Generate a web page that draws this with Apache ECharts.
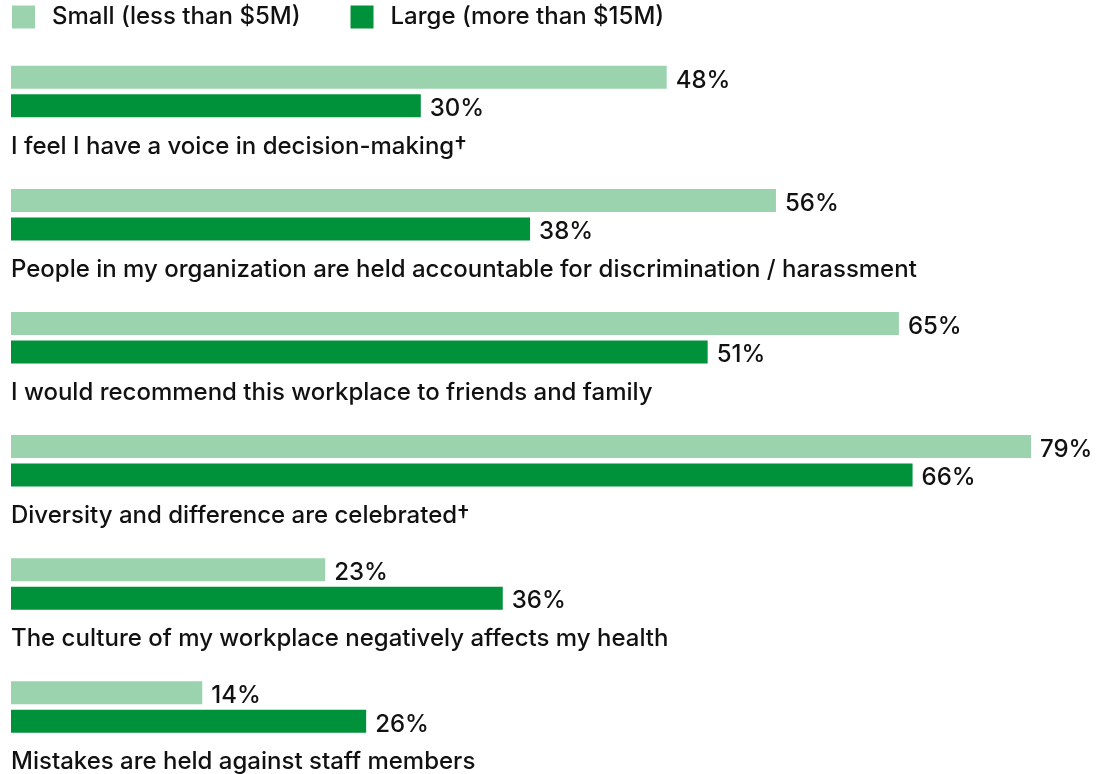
<!DOCTYPE html>
<html>
<head>
<meta charset="utf-8">
<script src="https://cdn.jsdelivr.net/npm/echarts@6/dist/echarts.min.js"></script>
<style>
  html, body { margin: 0; padding: 0; background: #fff; }
  #chart { width: 1109px; height: 774px; }
</style>
</head>
<body>
<div id="chart"></div>
<script>
// Survey statements, top to bottom
const categories = [
  'I feel I have a voice in decision-making\u2020',
  'People in my organization are held accountable for discrimination / harassment',
  'I would recommend this workplace to friends and family',
  'Diversity and difference are celebrated\u2020',
  'The culture of my workplace negatively affects my health',
  'Mistakes are held against staff members'
];
const seriesNames = ['Small (less than $5M)', 'Large (more than $15M)'];
const smallValues = [48, 56, 65, 79, 23, 14];
const largeValues = [30, 38, 51, 66, 36, 26];

const FONT = 'Inter, "Noto Sans", sans-serif';
const FONT_SIZE = 24;
const FONT_WEIGHT = 500;
const LIGHT = '#9bd3ae';
const DARK = '#00923a';

const chart = echarts.init(document.getElementById('chart'), null, { renderer: 'canvas' });

const valueLabel = {
  show: true,
  position: 'right',
  distance: 9,
  offset: [0, 3],
  formatter: p => p.value + '%',
  color: '#111',
  fontFamily: FONT,
  fontSize: FONT_SIZE,
  fontWeight: FONT_WEIGHT
};

chart.setOption({
  animation: false,
  legend: {
    left: 12,
    top: 5,
    padding: 0,
    itemWidth: 23,
    itemHeight: 23,
    itemGap: 50,
    icon: 'rect',
    textStyle: {
      fontFamily: FONT, fontSize: FONT_SIZE, fontWeight: FONT_WEIGHT,
      color: '#111', padding: [0, 0, 0, 12]
    },
    data: seriesNames
  },
  grid: { left: 11, top: 30, width: 1020, height: 739, containLabel: false },
  xAxis: {
    type: 'value',
    min: 0,
    max: 74.67,
    show: false
  },
  yAxis: {
    type: 'category',
    inverse: true,
    data: categories,
    axisLine: { show: false },
    axisTick: { show: false },
    splitLine: { show: false },
    axisLabel: {
      inside: true,
      margin: 0,
      verticalAlign: 'top',
      padding: [43, 0, 0, 0],
      color: '#111',
      fontFamily: FONT,
      fontSize: FONT_SIZE,
      fontWeight: FONT_WEIGHT
    }
  },
  series: [
    {
      name: seriesNames[0],
      type: 'bar',
      data: smallValues,
      barWidth: 23,
      barGap: '24%',
      itemStyle: { color: LIGHT },
      label: valueLabel
    },
    {
      name: seriesNames[1],
      type: 'bar',
      data: largeValues,
      barWidth: 23,
      itemStyle: { color: DARK },
      label: valueLabel
    }
  ]
});
</script>
</body>
</html>
